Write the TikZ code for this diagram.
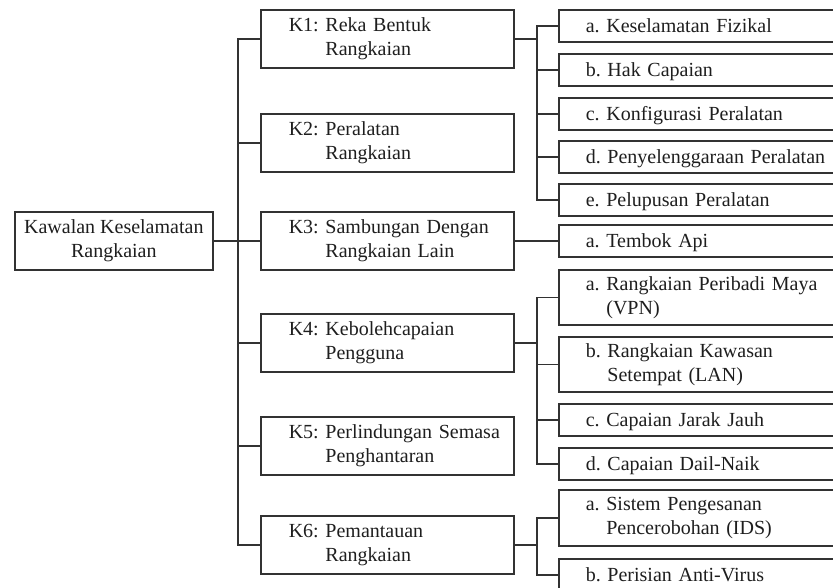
\documentclass[tikz,border=0pt]{standalone}
\usepackage{fontspec}
\setmainfont{Liberation Serif}
\definecolor{linec}{RGB}{50,50,50}
\definecolor{txt}{RGB}{30,30,30}
\newcommand{\hang}[2]{\begin{tabular}{@{}l@{ }l@{}}#1 & #2\end{tabular}}
\begin{document}
\frenchspacing
\begin{tikzpicture}[x=1pt,y=-1pt,
  font=\fontsize{20}{24}\selectfont\frenchspacing,
  every node/.style={text=txt},
  conn/.style={draw=linec, line width=1.6pt},
  rootbox/.style={draw=linec, line width=1.6pt, anchor=north west, minimum width=198pt, minimum height=58pt, inner sep=0pt, align=center},
  kbox/.style={draw=linec, line width=1.6pt, anchor=north west, minimum height=58pt, inner xsep=28pt, inner ysep=0pt, text width=197pt, align=left},
  sbox/.style={draw=linec, line width=1.6pt, anchor=north west, inner xsep=27pt, inner ysep=0pt, text width=266pt, align=left},
  single/.style={sbox, minimum height=32pt, text height=14pt, text depth=0pt},
  double/.style={sbox, minimum height=55pt}
]
\useasboundingbox (0,0) rectangle (833,587);
\clip (0,0) rectangle (833,587);

% root
\node[rootbox] (root) at (14,211) {Kawalan Keselamatan\\Rangkaian};

% level 1
\node[kbox] (k1) at (260,9)   {\hang{K1:}{Reka Bentuk\\ & Rangkaian}};
\node[kbox] (k2) at (260,113) {\hang{K2:}{Peralatan\\ & Rangkaian}};
\node[kbox] (k3) at (260,211) {\hang{K3:}{Sambungan Dengan\\ & Rangkaian Lain}};
\node[kbox] (k4) at (260,313) {\hang{K4:}{Kebolehcapaian\\ & Pengguna}};
\node[kbox] (k5) at (260,416) {\hang{K5:}{Perlindungan Semasa\\ & Penghantaran}};
\node[kbox] (k6) at (260,515) {\hang{K6:}{Pemantauan\\ & Rangkaian}};

% level 2
\node[single] (s1a) at (558,9)   {a. Keselamatan Fizikal};
\node[single] (s1b) at (558,53)  {b. Hak Capaian};
\node[single] (s1c) at (558,97)  {c. Konfigurasi Peralatan};
\node[single] (s1d) at (558,140) {d. Penyelenggaraan Peralatan};
\node[single] (s1e) at (558,183) {e. Pelupusan Peralatan};

\node[single] (s3a) at (558,224) {a. Tembok Api};

\node[double] (s4a) at (558,269) {\hang{a.}{Rangkaian Peribadi Maya\\ & (VPN)}};
\node[double] (s4b) at (558,336) {\hang{b.}{Rangkaian Kawasan\\ & Setempat (LAN)}};
\node[single] (s4c) at (558,403) {c. Capaian Jarak Jauh};
\node[single] (s4d) at (558,447) {d. Capaian Dail-Naik};

\node[sbox, minimum height=56pt] (s6a) at (558,489) {\hang{a.}{Sistem Pengesanan\\ & Pencerobohan (IDS)}};
\node[single] (s6b) at (558,558) {b. Perisian Anti-Virus};

% trunk
\coordinate (tx) at (238,0);
\draw[conn] (root.east) -- (k3.west);
\draw[conn] (k1.west) -- (k1.west -| tx) -- (k6.west -| tx) -- (k6.west);
\draw[conn] (k2.west) -- (k2.west -| tx);
\draw[conn] (k4.west) -- (k4.west -| tx);
\draw[conn] (k5.west) -- (k5.west -| tx);

% sub buses
\coordinate (bx) at (537,0);
\draw[conn] (k1.east) -- (k1.east -| bx);
\draw[conn] (s1a.west) -- (s1a.west -| bx) -- (s1e.west -| bx) -- (s1e.west);
\draw[conn] (s1b.west) -- (s1b.west -| bx);
\draw[conn] (s1c.west) -- (s1c.west -| bx);
\draw[conn] (s1d.west) -- (s1d.west -| bx);

\draw[conn] (k3.east) -- (s3a.west);

\draw[conn] (k4.east) -- (k4.east -| bx);
\draw[conn] (s4a.west) -- (s4a.west -| bx) -- (s4d.west -| bx) -- (s4d.west);
\draw[conn] (s4b.west) -- (s4b.west -| bx);
\draw[conn] (s4c.west) -- (s4c.west -| bx);

\draw[conn] (k6.east) -- (k6.east -| bx);
\draw[conn] (s6a.west) -- (s6a.west -| bx) -- (s6b.west -| bx) -- (s6b.west);
\end{tikzpicture}
\end{document}
